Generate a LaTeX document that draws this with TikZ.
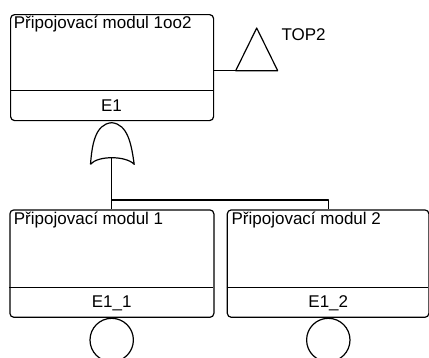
\documentclass[tikz,border=0pt]{standalone}
\usepackage{fontspec}
\setmainfont{Liberation Sans}
\begin{document}
\begin{tikzpicture}[x=1pt,y=-1pt,line width=1.2pt,line join=round,
  eventbox/.style={draw,rounded corners=4pt,inner sep=0pt,anchor=north west},
  lbl/.style={font=\fontsize{17}{20}\selectfont,inner sep=0pt},
  basic/.style={draw,circle,minimum size=43.4pt,inner sep=0pt}]
\useasboundingbox (0,0) rectangle (429,357);

% top event
\node[eventbox,minimum width=203pt,minimum height=106pt] (top) at (10,14) {};
\draw (10,90.7) -- (213,90.7);
\node[lbl,anchor=base west] (toptitle) at (13.3,28.3) {Připojovací modul 1oo2};
\node[lbl,anchor=base] (topid) at (111.5,111) {E1};

% transfer triangle
\coordinate (tri) at (235.7,70.7);
\draw (top.east |- tri) -- (tri);
\draw (tri) -- ++(21,-42.7) -- ++(21,42.7) -- cycle;
\node[lbl,anchor=base west] (toplabel) at (281,40) {TOP2};

% OR gate
\coordinate (gate) at (111.7,158);
\draw (gate) ++(-21.2,6.3)
  .. controls (92,145) and (95,124) .. (111.7,122.7)
  .. controls (128,124) and (131.5,145) .. (134.2,164.3)
  .. controls (126,155.5) and (97.4,155.5) .. (90.5,164.3);

% input events
\node[eventbox,minimum width=204pt,minimum height=107.4pt] (m1) at (9.3,209.3) {};
\node[eventbox,minimum width=201.6pt,minimum height=107.4pt] (m2) at (226.7,209.3) {};
\draw (9.3,287.3) -- (213.3,287.3);
\draw (226.7,287.3) -- (428.3,287.3);
\node[lbl,anchor=base west] (m1title) at (13.3,224) {Připojovací modul 1};
\node[lbl,anchor=base west] (m2title) at (231,224) {Připojovací modul 2};
\node[lbl,anchor=base] (m1id) at (111.7,307.3) {E1\_1};
\node[lbl,anchor=base] (m2id) at (328.3,307.3) {E1\_2};

% gate to inputs
\coordinate (bus1) at (111.7,200);
\coordinate (bus2) at (328.3,200);
\draw (gate) -- (bus1) -- (bus2) -- (bus2 |- m2.north);
\draw (bus1) -- (bus1 |- m1.north);

% basic events
\node[basic] (b1) at (111.7,340) {};
\node[basic] (b2) at (328.3,340) {};
\end{tikzpicture}
\end{document}
